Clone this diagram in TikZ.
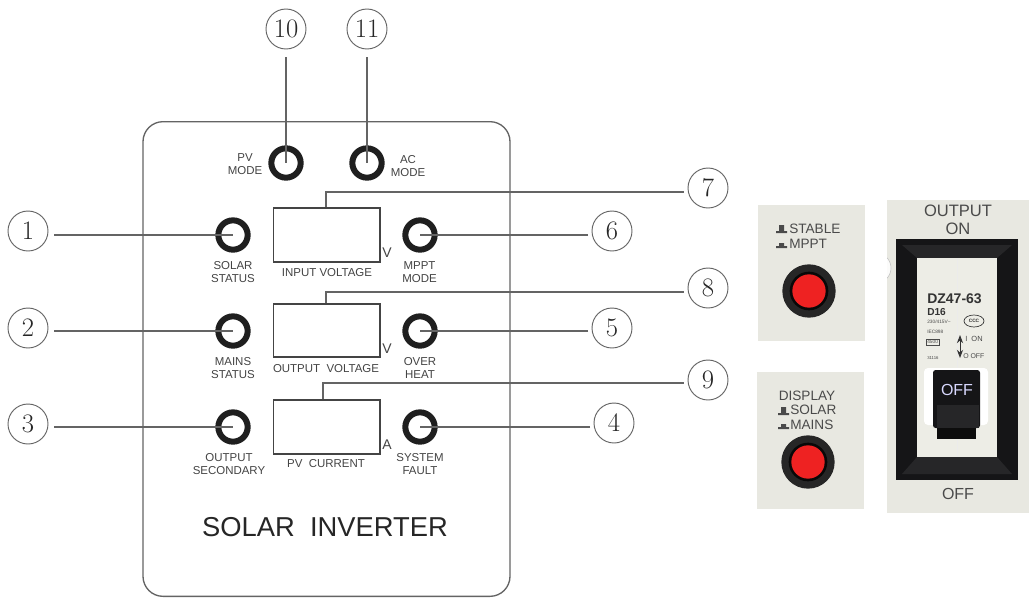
\documentclass[tikz,border=0pt]{standalone}
\usepackage{fontspec}
\usetikzlibrary{shapes.geometric,arrows.meta}
\setsansfont{Liberation Sans}
\renewcommand{\familydefault}{\sfdefault}
\definecolor{inkc}{HTML}{444444}
\definecolor{linec}{HTML}{646464}
\definecolor{photobg}{HTML}{E8E8E1}
\definecolor{photoink}{HTML}{4A4A4A}
\definecolor{btnred}{HTML}{EE2222}
\definecolor{framek}{HTML}{151517}
\definecolor{framebev}{HTML}{262628}
\definecolor{innerbg}{HTML}{EDEDE6}
\tikzset{
  x=0.75pt,y=-0.75pt,
  ring/.style={circle,draw=black!88,line width=4.5pt,minimum size=22pt,inner sep=0pt,fill=white},
  numc/.style={circle,draw=linec,line width=0.7pt,minimum size=30pt,inner sep=0pt,outer sep=3pt,font=\rmfamily\fontsize{20}{20}\selectfont,text=black!85},
  lead/.style={draw=linec,line width=1pt},
  disp/.style={draw=inkc,line width=1pt,minimum width=80pt,inner sep=0pt},
  lab/.style={font=\fontsize{8.6}{10.3}\selectfont,text=inkc,align=center,inner sep=0pt},
  unit/.style={font=\fontsize{10.5}{10.5}\selectfont,text=inkc,inner sep=0pt},
  ptxt/.style={font=\fontsize{10.2}{12}\selectfont,text=photoink,inner sep=0pt,anchor=west},
  btnouter/.style={circle,fill=black!85,minimum size=40pt,inner sep=0pt},
  btnmid/.style={circle,fill=black!97,minimum size=29pt,inner sep=0pt},
  btn/.style={circle,fill=btnred,minimum size=25pt,inner sep=0pt},
  photo/.style={fill=photobg,draw=none,minimum width=80pt,minimum height=102pt,inner sep=0pt},
  tiny/.style={font=\fontsize{3.6}{3.6}\selectfont,text=photoink,inner sep=0pt,anchor=west},
}
\begin{document}
\begin{tikzpicture}
\useasboundingbox (0,0) rectangle (1029,597);
\fill[white] (0,0) rectangle (1029,597);
% panel
\node[draw=linec,line width=1pt,rounded corners=15pt,minimum width=275.25pt,minimum height=356pt,inner sep=0pt] (panel) at (326.5,359) {};
% rings
\node[ring] (r10) at (286,163) {};
\node[ring] (r11) at (367,163) {};
\node[ring] (r1) at (233,235) {};
\node[ring] (r2) at (233,331) {};
\node[ring] (r3) at (233,427) {};
\node[ring] (r6) at (420,235) {};
\node[ring] (r5) at (420,331) {};
\node[ring] (r4) at (420,427) {};
% displays
\node[disp,minimum height=40.5pt] (d7) at (326.5,235) {};
\node[disp,minimum height=39.75pt] (d8) at (326.5,330.5) {};
\node[disp,minimum height=40.5pt] (d9) at (326.5,427) {};
% number circles
\node[numc,outer sep=6pt] (n10) at (286,29) {10};
\node[numc,outer sep=6pt] (n11) at (367,29) {11};
\node[numc,outer sep=4.5pt] (n1) at (28,231) {1};
\node[numc,outer sep=4.5pt] (n2) at (28,328) {2};
\node[numc,outer sep=4.5pt] (n3) at (28,424) {3};
\node[numc] (n6) at (612,231) {6};
\node[numc] (n5) at (612,328) {5};
\node[numc] (n4) at (614,423) {4};
\node[numc] (n7) at (708,188) {7};
\node[numc] (n8) at (708,288) {8};
\node[numc] (n9) at (708,380) {9};
% connectors
\draw[lead] (n10.south) -- (r10.center);
\draw[lead] (n11.south) -- (r11.center);
\draw[lead] (n1.east |- r1.center) -- (r1.center);
\draw[lead] (n2.east |- r2.center) -- (r2.center);
\draw[lead] (n3.east |- r3.center) -- (r3.center);
\draw[lead] (n6.west |- r6.center) -- (r6.center);
\draw[lead] (n5.west |- r5.center) -- (r5.center);
\draw[lead] (n4.west |- r4.center) -- (r4.center);
\draw[lead] ([xshift=-0.4pt]d7.north) |- ([yshift=-3pt]n7.west);
\draw[lead] ([xshift=-0.4pt]d8.north) |- ([yshift=-3pt]n8.west);
\draw[lead] ([xshift=-2.6pt]d9.north) |- ([yshift=-2.25pt]n9.west);
% labels
\node[lab] (lpv) at (245,164) {PV\\MODE};
\node[lab] (lac) at (408,166) {AC\\MODE};
\node[lab] (l1) at (233,272) {SOLAR\\STATUS};
\node[lab] (l2) at (233,368) {MAINS\\STATUS};
\node[lab] (l3) at (229,464) {OUTPUT\\SECONDARY};
\node[lab] (l6) at (419.5,272) {MPPT\\MODE};
\node[lab] (l5) at (420,368) {OVER\\HEAT};
\node[lab] (l4) at (420,464) {SYSTEM\\FAULT};
\node[lab] (t7) at (327,273) {INPUT VOLTAGE};
\node[lab] (t8) at (326,369) {OUTPUT\ \ VOLTAGE};
\node[lab] (t9) at (326,464) {PV\ \ CURRENT};
\node[unit] (u7) at (387,253) {V};
\node[unit] (u8) at (387,349) {V};
\node[unit] (u9) at (387,445) {A};
\node[font=\fontsize{20.5}{20.5}\selectfont,text=black!85,inner sep=0pt] (title) at (325,527) {SOLAR\ \ INVERTER};
% photo 1
\node[photo] (p1) at (811.5,273) {};
\node[ptxt] (s1) at (789,229) {STABLE};
\node[ptxt] (s2) at (789,244) {MPPT};
\fill[photoink] (776,233) -- (787,233) -- (787,231) -- (784,231) -- (784,225) -- (779,225) -- (779,231) -- (776,231) -- cycle;
\fill[photoink] (776,248) -- (787,248) -- (787,246) -- (784,246) -- (784,243) -- (779,243) -- (779,246) -- (776,246) -- cycle;
\node[btnouter] (b1o) at (809,291) {};
\node[btnmid] (b1m) at (809,291) {};
\node[btn] (b1) at (809,291) {};
% photo 2
\node[photo,minimum height=103pt] (p2) at (810.5,440.5) {};
\node[ptxt,anchor=center] (s3) at (807,396) {DISPLAY};
\node[ptxt] (s4) at (790,410) {SOLAR};
\node[ptxt] (s5) at (790,425) {MAINS};
\fill[photoink] (778,415) -- (789,415) -- (789,413) -- (786,413) -- (786,407) -- (781,407) -- (781,413) -- (778,413) -- cycle;
\fill[photoink] (778,429) -- (789,429) -- (789,427) -- (786,427) -- (786,424) -- (781,424) -- (781,427) -- (778,427) -- cycle;
\node[btnouter] (b2o) at (808,462) {};
\node[btnmid] (b2m) at (808,462) {};
\node[btn] (b2) at (808,462) {};
% photo 3: breaker
\node[fill=photobg,minimum width=106.5pt,minimum height=235pt,inner sep=0pt] (p3) at (958,356.5) {};
\begin{scope}
\clip (887,200) rectangle (896,513);
\fill[white!85!photobg,draw=black!25] (876,268) circle[radius=15];
\end{scope}
\node[font=\fontsize{12.4}{13.3}\selectfont,text=photoink,align=center,inner sep=0pt] (o1) at (958,219.5) {OUTPUT\\ON};
\node[font=\fontsize{12}{12}\selectfont,text=photoink,inner sep=0pt] (o2) at (958,494) {OFF};
\fill[framek] (896,239) rectangle (1018,480);
\fill[framebev] (902,245) -- (1012,245) -- (997,258) -- (917,258) -- cycle;
\fill[framebev] (902,474) -- (1012,474) -- (997,457) -- (917,457) -- cycle;
\fill[innerbg] (917,258) rectangle (997,457);
\draw[black!8,line width=0.4pt] (957,258) -- (957,457);
\node[font=\bfseries\fontsize{10.5}{10.5}\selectfont,text=black!80,inner sep=0pt,anchor=west] (m1) at (927,299) {DZ47-63};
\node[font=\bfseries\fontsize{7.6}{7.6}\selectfont,text=black!80,inner sep=0pt,anchor=west] (m2) at (927,312) {D16};
\node[tiny] (m3) at (927,322) {230/415V\textasciitilde};
\node[tiny] (m4) at (927,332) {IEC898};
\node[tiny,draw=photoink,line width=0.3pt,inner sep=0.8pt] (m5) at (926,342) {4500};
\node[tiny,font=\fontsize{3.2}{3.2}\selectfont] (m6) at (927,358) {31116};
\node[draw=black!80,line width=0.5pt,ellipse,minimum width=15pt,minimum height=9pt,inner sep=0pt,font=\bfseries\fontsize{3.6}{3.6}\selectfont,text=black!80] (m7) at (974,321) {CCC};
\node[font=\fontsize{5.6}{5.6}\selectfont,text=photoink,inner sep=0pt,anchor=west] (m8) at (965,339) {I\ \ ON};
\node[font=\fontsize{5.2}{5.2}\selectfont,text=photoink,inner sep=0pt,anchor=west] (m9) at (963,356) {O OFF};
\coordinate (au) at (960,335);
\coordinate (ad) at (960,358);
\draw[black!80,line width=0.7pt,Stealth-Stealth] (au) -- (ad);
\fill[white,rounded corners=3pt] (924,368) rectangle (988,425);
\fill[framek,rounded corners=2pt] (933,370) rectangle (980,428);
\fill[framebev] (937,405) rectangle (979,428);
\fill[black!95] (937,428) rectangle (976,439);
\node[font=\fontsize{12}{12}\selectfont,text=white!85!blue,inner sep=0pt] (off) at (957,390) {OFF};
\end{tikzpicture}
\end{document}
